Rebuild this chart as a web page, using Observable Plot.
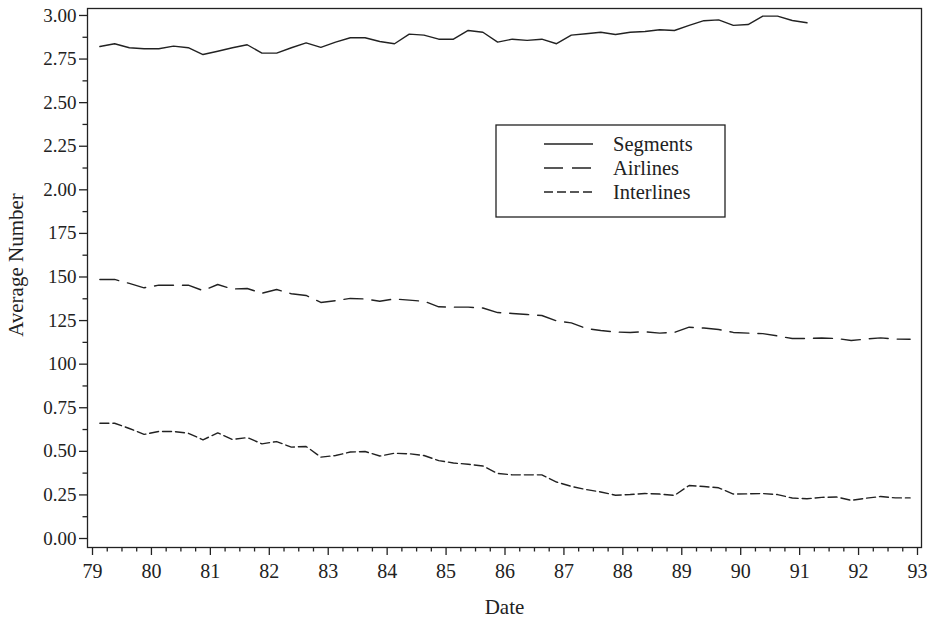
<!DOCTYPE html>
<html><head><meta charset="utf-8">
<script src="https://cdn.jsdelivr.net/npm/d3@7"></script>
<script src="https://cdn.jsdelivr.net/npm/@observablehq/plot@0.6"></script>
<style>
body{margin:0;background:#fff}
svg{display:block}
g[aria-label="y-axis tick label"] text{font-size:19px}
g[aria-label="x-axis tick label"] text{font-size:20px}
</style>
</head><body><div id="chart"></div>
<script>
// quarterly dates (decimal years, mid-quarter)
const dates = [79.125,79.375,79.625,79.875,80.125,80.375,80.625,80.875,81.125,81.375,81.625,81.875,
82.125,82.375,82.625,82.875,83.125,83.375,83.625,83.875,84.125,84.375,84.625,84.875,
85.125,85.375,85.625,85.875,86.125,86.375,86.625,86.875,87.125,87.375,87.625,87.875,
88.125,88.375,88.625,88.875,89.125,89.375,89.625,89.875,90.125,90.375,90.625,90.875,
91.125,91.375,91.625,91.875,92.125,92.375,92.625,92.875];

const segments = [2.822,2.838,2.815,2.809,2.809,2.824,2.815,2.776,2.795,2.815,2.832,2.784,
2.784,2.815,2.843,2.817,2.847,2.872,2.872,2.851,2.838,2.893,2.887,2.864,
2.864,2.914,2.904,2.847,2.864,2.857,2.864,2.838,2.887,2.895,2.904,2.891,
2.904,2.908,2.918,2.914,2.943,2.970,2.975,2.943,2.948,2.996,2.996,2.971,2.958];

const airlines = [1.486,1.486,1.463,1.438,1.453,1.453,1.453,1.422,1.457,1.431,1.434,1.407,
1.428,1.404,1.394,1.354,1.364,1.377,1.374,1.361,1.374,1.367,1.361,1.329,
1.327,1.327,1.322,1.296,1.291,1.285,1.279,1.248,1.237,1.205,1.193,1.184,
1.182,1.186,1.178,1.182,1.212,1.207,1.199,1.182,1.178,1.175,1.162,1.147,
1.147,1.150,1.147,1.136,1.144,1.151,1.144,1.143];

const interlines = [0.661,0.661,0.631,0.597,0.614,0.614,0.604,0.566,0.606,0.568,0.579,0.543,
0.556,0.524,0.528,0.467,0.476,0.496,0.499,0.473,0.489,0.486,0.476,0.447,
0.433,0.426,0.416,0.373,0.365,0.365,0.365,0.324,0.299,0.281,0.267,0.248,
0.252,0.258,0.255,0.247,0.304,0.298,0.291,0.255,0.256,0.258,0.252,0.232,
0.228,0.236,0.238,0.219,0.231,0.241,0.233,0.233];

const seriesNames = ["Segments","Airlines","Interlines"];
const xTicks = [79,80,81,82,83,84,85,86,87,88,89,90,91,92,93];
const yTicks = [0,0.25,0.5,0.75,1,1.25,1.5,1.75,2,2.25,2.5,2.75,3];
const yTickLabels = ["0.00","0.25","0.50","0.75","100","125","150","175","2.00","2.25","2.50","2.75","3.00"];
const xTitle = "Date";
const yTitle = "Average Number";

const xMinor = d3.range(79, 93, 0.25).filter(v => v % 1 !== 0);
const yMinor = d3.range(0.125, 3, 0.25);

const seriesValues = [segments, airlines, interlines];
const dashes = ["none", "19,9", "9,4"];
const data = seriesNames.map((name, si) =>
  seriesValues[si].map((v, i) => ({date: dates[i], value: v, series: name})));

const ink = "#222";
const font = "'Liberation Serif','Times New Roman',serif";

const plot = Plot.plot({
  width: 931, height: 619,
  marginLeft: 87, marginRight: 10, marginTop: 8, marginBottom: 72,
  style: {fontFamily: font, background: "#fff", color: ink},
  x: {domain: [78.915, 93.068]},
  y: {domain: [-0.0516, 3.040]},
  marks: [
    Plot.frame({stroke: ink, strokeWidth: 1.3}),
    Plot.axisX({ticks: xMinor, tickSize: 4.5, tickFormat: () => "", label: null, strokeWidth: 1.3}),
    Plot.axisX({ticks: xTicks, tickSize: 8, tickPadding: 8, tickFormat: d => String(d),
      label: null, strokeWidth: 1.3}),
    Plot.axisY({ticks: yMinor, tickSize: 4.5, tickFormat: () => "", label: null, strokeWidth: 1.3}),
    Plot.axisY({ticks: yTicks, tickSize: 8, tickPadding: 3,
      tickFormat: d => yTickLabels[yTicks.indexOf(d)], label: null, strokeWidth: 1.3}),
    Plot.text([xTitle], {frameAnchor: "bottom", dy: 66, fontSize: 21, fill: ink}),
    Plot.text([yTitle], {frameAnchor: "left", dx: -71, dy: -13, rotate: -90, textAnchor: "middle",
      fontSize: 21, fill: ink}),
    ...data.map((d, i) => Plot.line(d, {x: "date", y: "value", stroke: ink, strokeWidth: 1.4,
      strokeDasharray: dashes[i], curve: "linear"}))
  ]
});

// legend
const svg = d3.select(plot);
const lg = svg.append("g").attr("font-family", font).attr("font-size", 20.5)
  .attr("fill", ink).attr("text-anchor", "start");
lg.append("rect").attr("x", 496).attr("y", 125).attr("width", 229).attr("height", 92)
  .attr("fill", "#fff").attr("stroke", ink).attr("stroke-width", 1.3);
const legendY = [144, 168, 192];
seriesNames.forEach((name, i) => {
  lg.append("line").attr("x1", 544).attr("x2", 593).attr("y1", legendY[i]).attr("y2", legendY[i])
    .attr("stroke", ink).attr("stroke-width", 1.4).attr("stroke-dasharray", dashes[i]);
  lg.append("text").attr("x", 613).attr("y", legendY[i]).attr("dy", "0.35em")
    .attr("text-anchor", "start").text(name);
});

document.getElementById("chart").appendChild(plot);
</script>
</body></html>
